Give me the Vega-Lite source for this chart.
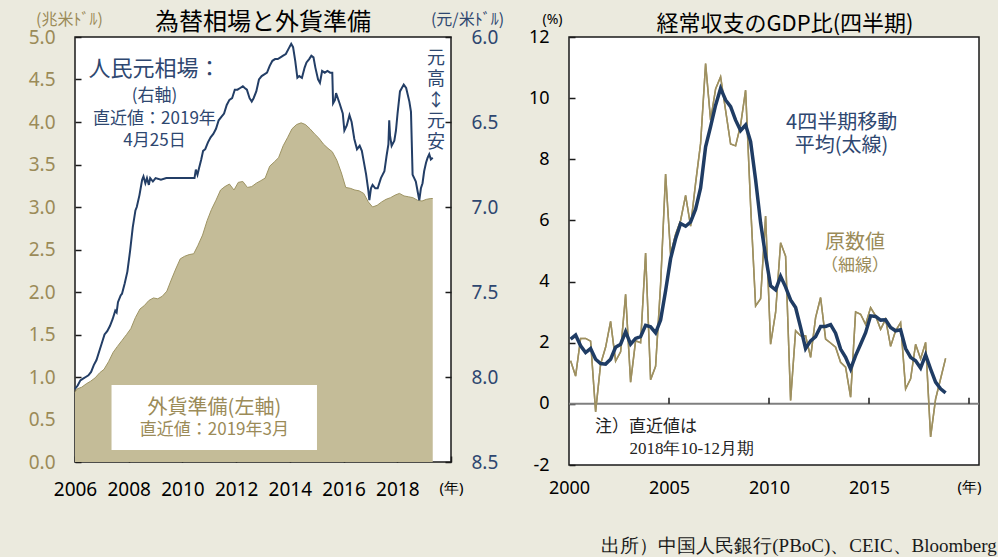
{
  "$schema": "https://vega.github.io/schema/vega-lite/v6.json",
  "background": "#ebeade",
  "padding": {"left": 27, "top": 10, "right": 4, "bottom": 4},
  "spacing": 22,
  "config": {
    "view": {"fill": "#ffffff", "stroke": "#1a1a1a", "strokeWidth": 1.5},
    "axis": {"grid": false},
    "font": "Noto Sans"
  },
  "title": {
    "text": "出所）中国人民銀行(PBoC)、CEIC、Bloomberg",
    "orient": "bottom", "anchor": "end", "font": "Liberation Serif", "fontSize": 19,
    "fontWeight": "normal", "color": "#1a1a1a", "offset": 37, "dx": 15
  },
  "datasets": {
    "fx": [
      {"t": 2006.00, "v": 0.82}, {"t": 2006.08, "v": 0.86}, {"t": 2006.25, "v": 0.88}, {"t": 2006.42, "v": 0.92},
      {"t": 2006.58, "v": 0.95}, {"t": 2006.75, "v": 0.99}, {"t": 2006.92, "v": 1.05}, {"t": 2007.08, "v": 1.09},
      {"t": 2007.25, "v": 1.18}, {"t": 2007.42, "v": 1.29}, {"t": 2007.58, "v": 1.36}, {"t": 2007.75, "v": 1.43},
      {"t": 2007.92, "v": 1.50}, {"t": 2008.08, "v": 1.57}, {"t": 2008.25, "v": 1.70}, {"t": 2008.42, "v": 1.80},
      {"t": 2008.58, "v": 1.84}, {"t": 2008.75, "v": 1.90}, {"t": 2008.92, "v": 1.93}, {"t": 2009.08, "v": 1.92},
      {"t": 2009.25, "v": 1.95}, {"t": 2009.42, "v": 2.01}, {"t": 2009.58, "v": 2.14}, {"t": 2009.75, "v": 2.27},
      {"t": 2009.92, "v": 2.39}, {"t": 2010.08, "v": 2.42}, {"t": 2010.25, "v": 2.44}, {"t": 2010.42, "v": 2.45},
      {"t": 2010.58, "v": 2.55}, {"t": 2010.75, "v": 2.67}, {"t": 2010.92, "v": 2.84}, {"t": 2011.08, "v": 2.97},
      {"t": 2011.25, "v": 3.08}, {"t": 2011.42, "v": 3.20}, {"t": 2011.58, "v": 3.24}, {"t": 2011.75, "v": 3.27},
      {"t": 2011.92, "v": 3.20}, {"t": 2012.08, "v": 3.29}, {"t": 2012.25, "v": 3.30}, {"t": 2012.42, "v": 3.23},
      {"t": 2012.58, "v": 3.24}, {"t": 2012.75, "v": 3.28}, {"t": 2012.92, "v": 3.31}, {"t": 2013.08, "v": 3.34},
      {"t": 2013.25, "v": 3.48}, {"t": 2013.42, "v": 3.53}, {"t": 2013.58, "v": 3.58}, {"t": 2013.75, "v": 3.72},
      {"t": 2013.92, "v": 3.82}, {"t": 2014.08, "v": 3.92}, {"t": 2014.25, "v": 3.97}, {"t": 2014.42, "v": 3.99},
      {"t": 2014.58, "v": 3.97}, {"t": 2014.75, "v": 3.92}, {"t": 2014.92, "v": 3.86}, {"t": 2015.08, "v": 3.81},
      {"t": 2015.25, "v": 3.74}, {"t": 2015.42, "v": 3.69}, {"t": 2015.58, "v": 3.65}, {"t": 2015.75, "v": 3.55},
      {"t": 2015.92, "v": 3.40}, {"t": 2016.08, "v": 3.23}, {"t": 2016.25, "v": 3.22}, {"t": 2016.42, "v": 3.20},
      {"t": 2016.58, "v": 3.19}, {"t": 2016.75, "v": 3.16}, {"t": 2016.92, "v": 3.06}, {"t": 2017.08, "v": 3.00},
      {"t": 2017.25, "v": 3.02}, {"t": 2017.42, "v": 3.06}, {"t": 2017.58, "v": 3.09}, {"t": 2017.75, "v": 3.11},
      {"t": 2017.92, "v": 3.14}, {"t": 2018.08, "v": 3.16}, {"t": 2018.25, "v": 3.13}, {"t": 2018.42, "v": 3.12},
      {"t": 2018.58, "v": 3.11}, {"t": 2018.75, "v": 3.08}, {"t": 2018.92, "v": 3.07}, {"t": 2019.08, "v": 3.09},
      {"t": 2019.25, "v": 3.10}, {"t": 2019.32, "v": 3.10}
    ],
    "cny": [
      {"t": 2006.00, "r": 8.07}, {"t": 2006.10, "r": 8.05}, {"t": 2006.20, "r": 8.02}, {"t": 2006.30, "r": 8.01},
      {"t": 2006.40, "r": 8.00}, {"t": 2006.50, "r": 7.99}, {"t": 2006.60, "r": 7.97}, {"t": 2006.70, "r": 7.93},
      {"t": 2006.80, "r": 7.90}, {"t": 2006.90, "r": 7.85}, {"t": 2007.00, "r": 7.80}, {"t": 2007.10, "r": 7.75},
      {"t": 2007.20, "r": 7.73}, {"t": 2007.30, "r": 7.70}, {"t": 2007.40, "r": 7.66}, {"t": 2007.50, "r": 7.61},
      {"t": 2007.55, "r": 7.62}, {"t": 2007.60, "r": 7.56}, {"t": 2007.70, "r": 7.52}, {"t": 2007.75, "r": 7.51},
      {"t": 2007.85, "r": 7.45}, {"t": 2007.95, "r": 7.38}, {"t": 2008.05, "r": 7.26}, {"t": 2008.15, "r": 7.12},
      {"t": 2008.25, "r": 7.02}, {"t": 2008.30, "r": 7.00}, {"t": 2008.40, "r": 6.93}, {"t": 2008.50, "r": 6.84},
      {"t": 2008.55, "r": 6.82}, {"t": 2008.62, "r": 6.86}, {"t": 2008.68, "r": 6.83}, {"t": 2008.75, "r": 6.87},
      {"t": 2008.80, "r": 6.83}, {"t": 2008.90, "r": 6.85}, {"t": 2009.00, "r": 6.83}, {"t": 2009.20, "r": 6.84},
      {"t": 2009.40, "r": 6.83}, {"t": 2009.60, "r": 6.83}, {"t": 2009.80, "r": 6.83}, {"t": 2010.00, "r": 6.83},
      {"t": 2010.20, "r": 6.83}, {"t": 2010.45, "r": 6.83}, {"t": 2010.50, "r": 6.78}, {"t": 2010.56, "r": 6.81},
      {"t": 2010.62, "r": 6.77}, {"t": 2010.70, "r": 6.72}, {"t": 2010.77, "r": 6.67}, {"t": 2010.85, "r": 6.66},
      {"t": 2010.95, "r": 6.62}, {"t": 2011.05, "r": 6.59}, {"t": 2011.15, "r": 6.57}, {"t": 2011.25, "r": 6.54},
      {"t": 2011.35, "r": 6.49}, {"t": 2011.45, "r": 6.47}, {"t": 2011.55, "r": 6.45}, {"t": 2011.65, "r": 6.40},
      {"t": 2011.75, "r": 6.37}, {"t": 2011.85, "r": 6.36}, {"t": 2011.95, "r": 6.31}, {"t": 2012.05, "r": 6.31},
      {"t": 2012.15, "r": 6.30}, {"t": 2012.25, "r": 6.29}, {"t": 2012.32, "r": 6.30}, {"t": 2012.40, "r": 6.31},
      {"t": 2012.50, "r": 6.36}, {"t": 2012.58, "r": 6.38}, {"t": 2012.65, "r": 6.36}, {"t": 2012.75, "r": 6.32},
      {"t": 2012.85, "r": 6.25}, {"t": 2012.95, "r": 6.23}, {"t": 2013.05, "r": 6.22}, {"t": 2013.15, "r": 6.21},
      {"t": 2013.25, "r": 6.17}, {"t": 2013.35, "r": 6.14}, {"t": 2013.45, "r": 6.13}, {"t": 2013.55, "r": 6.13},
      {"t": 2013.65, "r": 6.12}, {"t": 2013.75, "r": 6.11}, {"t": 2013.85, "r": 6.10}, {"t": 2013.95, "r": 6.07},
      {"t": 2014.05, "r": 6.04}, {"t": 2014.12, "r": 6.06}, {"t": 2014.20, "r": 6.14}, {"t": 2014.28, "r": 6.24},
      {"t": 2014.35, "r": 6.23}, {"t": 2014.45, "r": 6.24}, {"t": 2014.55, "r": 6.18}, {"t": 2014.62, "r": 6.15},
      {"t": 2014.72, "r": 6.13}, {"t": 2014.80, "r": 6.11}, {"t": 2014.88, "r": 6.12}, {"t": 2014.95, "r": 6.18},
      {"t": 2015.05, "r": 6.25}, {"t": 2015.12, "r": 6.27}, {"t": 2015.20, "r": 6.20}, {"t": 2015.30, "r": 6.21},
      {"t": 2015.40, "r": 6.20}, {"t": 2015.50, "r": 6.21}, {"t": 2015.58, "r": 6.21}, {"t": 2015.61, "r": 6.39},
      {"t": 2015.68, "r": 6.37}, {"t": 2015.72, "r": 6.33}, {"t": 2015.85, "r": 6.39}, {"t": 2015.97, "r": 6.45},
      {"t": 2016.03, "r": 6.55}, {"t": 2016.12, "r": 6.52}, {"t": 2016.22, "r": 6.46}, {"t": 2016.30, "r": 6.50},
      {"t": 2016.40, "r": 6.60}, {"t": 2016.50, "r": 6.66}, {"t": 2016.60, "r": 6.64}, {"t": 2016.68, "r": 6.67},
      {"t": 2016.75, "r": 6.73}, {"t": 2016.84, "r": 6.81}, {"t": 2016.92, "r": 6.90}, {"t": 2016.96, "r": 6.96},
      {"t": 2017.02, "r": 6.89}, {"t": 2017.08, "r": 6.87}, {"t": 2017.18, "r": 6.89}, {"t": 2017.27, "r": 6.89},
      {"t": 2017.39, "r": 6.83}, {"t": 2017.52, "r": 6.79}, {"t": 2017.60, "r": 6.70}, {"t": 2017.67, "r": 6.63},
      {"t": 2017.70, "r": 6.49}, {"t": 2017.73, "r": 6.58}, {"t": 2017.79, "r": 6.64}, {"t": 2017.89, "r": 6.61},
      {"t": 2017.95, "r": 6.55}, {"t": 2018.01, "r": 6.45}, {"t": 2018.10, "r": 6.32}, {"t": 2018.17, "r": 6.30},
      {"t": 2018.24, "r": 6.28}, {"t": 2018.33, "r": 6.30}, {"t": 2018.45, "r": 6.38}, {"t": 2018.51, "r": 6.44},
      {"t": 2018.57, "r": 6.81}, {"t": 2018.63, "r": 6.83}, {"t": 2018.69, "r": 6.85}, {"t": 2018.76, "r": 6.91},
      {"t": 2018.82, "r": 6.96}, {"t": 2018.88, "r": 6.89}, {"t": 2018.94, "r": 6.86}, {"t": 2019.00, "r": 6.79},
      {"t": 2019.07, "r": 6.74}, {"t": 2019.13, "r": 6.71}, {"t": 2019.19, "r": 6.69}, {"t": 2019.25, "r": 6.72},
      {"t": 2019.32, "r": 6.71}
    ],
    "ca": [
      {"t": 2000.08, "raw": 1.41, "ma": 2.12}, {"t": 2000.33, "raw": 0.91, "ma": 2.25}, {"t": 2000.58, "raw": 2.14, "ma": 1.90}, {"t": 2000.83, "raw": 2.14, "ma": 1.68},
      {"t": 2001.08, "raw": 2.05, "ma": 1.81}, {"t": 2001.33, "raw": -0.26, "ma": 1.46}, {"t": 2001.58, "raw": 1.30, "ma": 1.32}, {"t": 2001.83, "raw": 1.85, "ma": 1.30},
      {"t": 2002.08, "raw": 2.70, "ma": 1.46}, {"t": 2002.33, "raw": 1.40, "ma": 1.85}, {"t": 2002.58, "raw": 1.70, "ma": 1.95}, {"t": 2002.83, "raw": 3.58, "ma": 2.36},
      {"t": 2003.08, "raw": 0.71, "ma": 1.95}, {"t": 2003.33, "raw": 2.06, "ma": 2.14}, {"t": 2003.58, "raw": 2.00, "ma": 2.20}, {"t": 2003.83, "raw": 4.93, "ma": 2.57},
      {"t": 2004.08, "raw": 0.79, "ma": 2.52}, {"t": 2004.33, "raw": 1.23, "ma": 2.32}, {"t": 2004.58, "raw": 3.90, "ma": 2.74}, {"t": 2004.83, "raw": 7.52, "ma": 3.70},
      {"t": 2005.08, "raw": 4.89, "ma": 4.75}, {"t": 2005.33, "raw": 5.55, "ma": 5.40}, {"t": 2005.58, "raw": 6.00, "ma": 5.90}, {"t": 2005.83, "raw": 6.82, "ma": 5.81},
      {"t": 2006.08, "raw": 5.81, "ma": 5.95}, {"t": 2006.33, "raw": 7.22, "ma": 6.37}, {"t": 2006.58, "raw": 8.52, "ma": 7.06}, {"t": 2006.83, "raw": 11.13, "ma": 8.41},
      {"t": 2007.08, "raw": 9.28, "ma": 9.07}, {"t": 2007.33, "raw": 10.30, "ma": 9.77}, {"t": 2007.58, "raw": 10.70, "ma": 10.32}, {"t": 2007.83, "raw": 9.60, "ma": 9.94},
      {"t": 2008.08, "raw": 8.50, "ma": 9.72}, {"t": 2008.33, "raw": 8.44, "ma": 9.28}, {"t": 2008.58, "raw": 9.12, "ma": 8.94}, {"t": 2008.83, "raw": 10.26, "ma": 9.12},
      {"t": 2009.08, "raw": 6.50, "ma": 8.58}, {"t": 2009.33, "raw": 3.20, "ma": 7.33}, {"t": 2009.58, "raw": 3.44, "ma": 5.92}, {"t": 2009.83, "raw": 6.14, "ma": 4.83},
      {"t": 2010.08, "raw": 1.95, "ma": 3.86}, {"t": 2010.33, "raw": 2.99, "ma": 3.73}, {"t": 2010.58, "raw": 5.27, "ma": 4.17}, {"t": 2010.83, "raw": 4.83, "ma": 3.82},
      {"t": 2011.08, "raw": 0.11, "ma": 3.40}, {"t": 2011.33, "raw": 2.39, "ma": 3.15}, {"t": 2011.58, "raw": 2.23, "ma": 2.50}, {"t": 2011.83, "raw": 2.23, "ma": 1.81},
      {"t": 2012.08, "raw": 1.52, "ma": 2.06}, {"t": 2012.33, "raw": 2.82, "ma": 2.20}, {"t": 2012.58, "raw": 3.48, "ma": 2.53}, {"t": 2012.83, "raw": 2.12, "ma": 2.53},
      {"t": 2013.08, "raw": 1.99, "ma": 2.59}, {"t": 2013.33, "raw": 1.85, "ma": 2.31}, {"t": 2013.58, "raw": 1.36, "ma": 1.79}, {"t": 2013.83, "raw": 1.20, "ma": 1.52},
      {"t": 2014.08, "raw": 0.22, "ma": 1.14}, {"t": 2014.33, "raw": 3.01, "ma": 1.58}, {"t": 2014.58, "raw": 2.93, "ma": 1.95}, {"t": 2014.83, "raw": 2.60, "ma": 2.33},
      {"t": 2015.08, "raw": 3.15, "ma": 2.88}, {"t": 2015.33, "raw": 2.88, "ma": 2.86}, {"t": 2015.58, "raw": 2.44, "ma": 2.74}, {"t": 2015.83, "raw": 2.77, "ma": 2.75},
      {"t": 2016.08, "raw": 1.88, "ma": 2.50}, {"t": 2016.33, "raw": 2.39, "ma": 2.39}, {"t": 2016.58, "raw": 2.66, "ma": 2.42}, {"t": 2016.83, "raw": 0.49, "ma": 1.81},
      {"t": 2017.08, "raw": 0.82, "ma": 1.52}, {"t": 2017.33, "raw": 1.95, "ma": 1.41}, {"t": 2017.58, "raw": 1.47, "ma": 1.17}, {"t": 2017.83, "raw": 2.01, "ma": 1.60},
      {"t": 2018.08, "raw": -1.08, "ma": 1.14}, {"t": 2018.33, "raw": 0.16, "ma": 0.71}, {"t": 2018.58, "raw": 0.82, "ma": 0.49}, {"t": 2018.83, "raw": 1.49, "ma": 0.36}
    ]
  },
  "hconcat": [
    {
      "width": 376,
      "height": 425,
      "title": {"text": "為替相場と外貨準備", "font": "Noto Sans CJK JP", "fontSize": 24, "fontWeight": "normal", "color": "#000000", "anchor": "middle", "offset": 0, "dy": 24},
      "layer": [
        {
          "layer": [
            {
              "data": {"name": "fx"},
              "mark": {"type": "area", "color": "#c4bc98", "opacity": 1, "line": {"color": "#9e9464", "strokeWidth": 1}},
              "encoding": {
                "x": {"field": "t", "type": "quantitative", "scale": {"domain": [2006, 2020], "nice": false, "zero": false},
                  "axis": {"tickCount": 7, "title": null,
                    "labelExpr": "datum.value == 2020 ? '(年)' : '' + datum.value",
                    "labelFontSize": {"condition": {"test": "datum.value == 2020", "value": 15}, "value": 19},
                    "labelColor": "#000000", "labelFont": "Noto Sans", "labelPadding": 24, "labelFlush": false,
                    "domain": false, "tickSize": -6, "tickColor": "#1a1a1a", "tickWidth": 1.5}},
                "y": {"field": "v", "type": "quantitative", "scale": {"domain": [0, 5], "nice": false, "zero": false},
                  "axis": {"tickCount": 10, "title": "(兆米ﾄﾞﾙ)",
                    "titleAngle": 0, "titleX": -6, "titleY": -18, "titleAlign": "center", "titleBaseline": "middle",
                    "titleFont": "Noto Sans CJK JP", "titleFontSize": 16, "titleFontWeight": "normal", "titleColor": "#9b8b58",
                    "labelColor": "#9b8b58", "labelFont": "Noto Sans", "labelFontSize": 19, "labelPadding": 26, "labelFlush": false,
                    "domain": false, "tickSize": -6, "tickColor": "#1a1a1a", "tickWidth": 1.5}}
              }
            },
            {
              "data": {"values": [{"t": 2007.36, "t2": 2015.01, "v": 0.14, "v2": 0.906}]},
              "mark": {"type": "rect", "color": "#ffffff"},
              "encoding": {
                "x": {"field": "t", "type": "quantitative"},
                "x2": {"field": "t2"},
                "y": {"field": "v", "type": "quantitative"},
                "y2": {"field": "v2"}
              }
            },
            {
              "data": {"values": [{"t": 2011.19, "v": 0.64, "label": "外貨準備(左軸)"}]},
              "mark": {"type": "text", "font": "Noto Sans CJK JP", "fontSize": 20, "color": "#9b8b58", "align": "center", "baseline": "middle"},
              "encoding": {
                "x": {"field": "t", "type": "quantitative"},
                "y": {"field": "v", "type": "quantitative"},
                "text": {"field": "label"}
              }
            },
            {
              "data": {"values": [{"t": 2011.19, "v": 0.373, "label": "直近値：2019年3月"}]},
              "mark": {"type": "text", "font": "Noto Sans CJK JP", "fontSize": 17, "color": "#9b8b58", "align": "center", "baseline": "middle"},
              "encoding": {
                "x": {"field": "t", "type": "quantitative"},
                "y": {"field": "v", "type": "quantitative"},
                "text": {"field": "label"}
              }
            }
          ]
        },
        {
          "layer": [
            {
              "data": {"name": "cny"},
              "mark": {"type": "line", "color": "#233e66", "strokeWidth": 2},
              "encoding": {
                "x": {"field": "t", "type": "quantitative"},
                "y": {"field": "r", "type": "quantitative", "scale": {"domain": [6, 8.5], "reverse": true, "nice": false, "zero": false},
                  "axis": {"orient": "right", "tickCount": 5, "title": "(元/米ﾄﾞﾙ)",
                    "titleAngle": 0, "titleX": 16, "titleY": -18, "titleAlign": "center", "titleBaseline": "middle",
                    "titleFont": "Noto Sans CJK JP", "titleFontSize": 16, "titleFontWeight": "normal", "titleColor": "#2e4770",
                    "labelColor": "#2e4770", "labelFont": "Noto Sans", "labelFontSize": 19, "labelPadding": 26, "labelFlush": false,
                    "domain": false, "tickSize": -6, "tickColor": "#1a1a1a", "tickWidth": 1.5}}
              }
            },
            {
              "data": {"values": [{"t": 2008.96, "r": 6.188, "label": "人民元相場："}]},
              "mark": {"type": "text", "font": "Noto Sans CJK JP", "fontSize": 22, "color": "#2e4770", "align": "center", "baseline": "middle"},
              "encoding": {
                "x": {"field": "t", "type": "quantitative"},
                "y": {"field": "r", "type": "quantitative"},
                "text": {"field": "label"}
              }
            },
            {
              "data": {"values": [
                {"t": 2008.96, "r": 6.347, "label": "(右軸)"},
                {"t": 2008.96, "r": 6.482, "label": "直近値：2019年"},
                {"t": 2008.96, "r": 6.612, "label": "4月25日"}
              ]},
              "mark": {"type": "text", "font": "Noto Sans CJK JP", "fontSize": 17, "color": "#2e4770", "align": "center", "baseline": "middle"},
              "encoding": {
                "x": {"field": "t", "type": "quantitative"},
                "y": {"field": "r", "type": "quantitative"},
                "text": {"field": "label"}
              }
            },
            {
              "data": {"values": [{"t": 2019.44, "r": 6.129, "label": "元\n高\n↕\n元\n安"}]},
              "mark": {"type": "text", "font": "Noto Sans CJK JP", "fontSize": 18, "color": "#2e4770", "align": "center", "baseline": "middle", "lineBreak": "\n", "lineHeight": 21},
              "encoding": {
                "x": {"field": "t", "type": "quantitative"},
                "y": {"field": "r", "type": "quantitative"},
                "text": {"field": "label"}
              }
            }
          ]
        }
      ],
      "resolve": {"scale": {"y": "independent"}}
    },
    {
      "width": 410,
      "height": 428,
      "title": {"text": "経常収支のGDP比(四半期)", "font": "Noto Sans CJK JP", "fontSize": 22, "fontWeight": "normal", "color": "#000000", "anchor": "middle", "offset": 0, "dy": 24, "dx": 11},
      "layer": [
        {
          "data": {"name": "ca"},
          "mark": {"type": "line", "color": "#9e9060", "strokeWidth": 1.5},
          "encoding": {
            "x": {"field": "t", "type": "quantitative", "scale": {"domain": [2000, 2020.5], "nice": false, "zero": false},
              "axis": {"tickCount": 4, "title": null,
                "labelExpr": "datum.value == 2020 ? '(年)' : '' + datum.value",
                "labelFontSize": {"condition": {"test": "datum.value == 2020", "value": 15}, "value": 18},
                "labelColor": "#000000", "labelFont": "Noto Sans", "labelPadding": 14, "labelFlush": false,
                "domain": false, "ticks": false}},
            "y": {"field": "raw", "type": "quantitative", "scale": {"domain": [-2, 12], "nice": false, "zero": false},
              "axis": {"tickCount": 7, "title": "(%)",
                "labelExpr": "'' + datum.value",
                "titleAngle": 0, "titleX": -17, "titleY": -18, "titleAlign": "center", "titleBaseline": "middle",
                "titleFont": "Noto Sans", "titleFontSize": 14, "titleFontWeight": "normal", "titleColor": "#000000",
                "labelColor": "#000000", "labelFont": "Noto Sans", "labelFontSize": 18, "labelPadding": 26, "labelFlush": false,
                "domain": false, "tickSize": -6, "tickColor": "#1a1a1a", "tickWidth": 1.5}}
          }
        },
        {
          "data": {"values": [{"raw": 0}]},
          "mark": {"type": "rule", "color": "#7f7f7f", "strokeWidth": 2},
          "encoding": {"y": {"field": "raw", "type": "quantitative"}}
        },
        {
          "data": {"name": "ca"},
          "mark": {"type": "line", "color": "#9e9060", "strokeWidth": 1.5},
          "encoding": {
            "x": {"field": "t", "type": "quantitative"},
            "y": {"field": "raw", "type": "quantitative"}
          }
        },
        {
          "data": {"name": "ca"},
          "mark": {"type": "line", "color": "#1f3c64", "strokeWidth": 3.5},
          "encoding": {
            "x": {"field": "t", "type": "quantitative"},
            "y": {"field": "ma", "type": "quantitative"}
          }
        },
        {
          "data": {"values": [{"t": 2005}, {"t": 2010}, {"t": 2015}, {"t": 2020}]},
          "mark": {"type": "rule", "color": "#1a1a1a", "strokeWidth": 1.5},
          "encoding": {
            "x": {"field": "t", "type": "quantitative"},
            "y": {"datum": 0},
            "y2": {"datum": 0.2}
          }
        },
        {
          "data": {"values": [
            {"t": 2013.63, "raw": 9.2, "label": "4四半期移動"},
            {"t": 2013.63, "raw": 8.42, "label": "平均(太線)"}
          ]},
          "mark": {"type": "text", "font": "Noto Sans CJK JP", "fontSize": 20, "color": "#2e4770", "align": "center", "baseline": "middle"},
          "encoding": {
            "x": {"field": "t", "type": "quantitative"},
            "y": {"field": "raw", "type": "quantitative"},
            "text": {"field": "label"}
          }
        },
        {
          "data": {"values": [{"t": 2014.3, "raw": 5.27, "label": "原数値"}]},
          "mark": {"type": "text", "font": "Noto Sans CJK JP", "fontSize": 20, "color": "#9b8b58", "align": "center", "baseline": "middle"},
          "encoding": {
            "x": {"field": "t", "type": "quantitative"},
            "y": {"field": "raw", "type": "quantitative"},
            "text": {"field": "label"}
          }
        },
        {
          "data": {"values": [{"t": 2014.3, "raw": 4.51, "label": "（細線）"}]},
          "mark": {"type": "text", "font": "Noto Sans CJK JP", "fontSize": 17, "color": "#9b8b58", "align": "center", "baseline": "middle"},
          "encoding": {
            "x": {"field": "t", "type": "quantitative"},
            "y": {"field": "raw", "type": "quantitative"},
            "text": {"field": "label"}
          }
        },
        {
          "data": {"values": [{"t": 2001.3, "raw": -0.76, "label": "注）直近値は"}]},
          "mark": {"type": "text", "font": "Noto Sans CJK JP", "fontSize": 17, "color": "#222222", "align": "left", "baseline": "middle"},
          "encoding": {
            "x": {"field": "t", "type": "quantitative"},
            "y": {"field": "raw", "type": "quantitative"},
            "text": {"field": "label"}
          }
        },
        {
          "data": {"values": [{"t": 2003.02, "raw": -1.47, "label": "2018年10-12月期"}]},
          "mark": {"type": "text", "font": "Liberation Serif", "fontSize": 17, "color": "#222222", "align": "left", "baseline": "middle"},
          "encoding": {
            "x": {"field": "t", "type": "quantitative"},
            "y": {"field": "raw", "type": "quantitative"},
            "text": {"field": "label"}
          }
        }
      ]
    }
  ]
}
